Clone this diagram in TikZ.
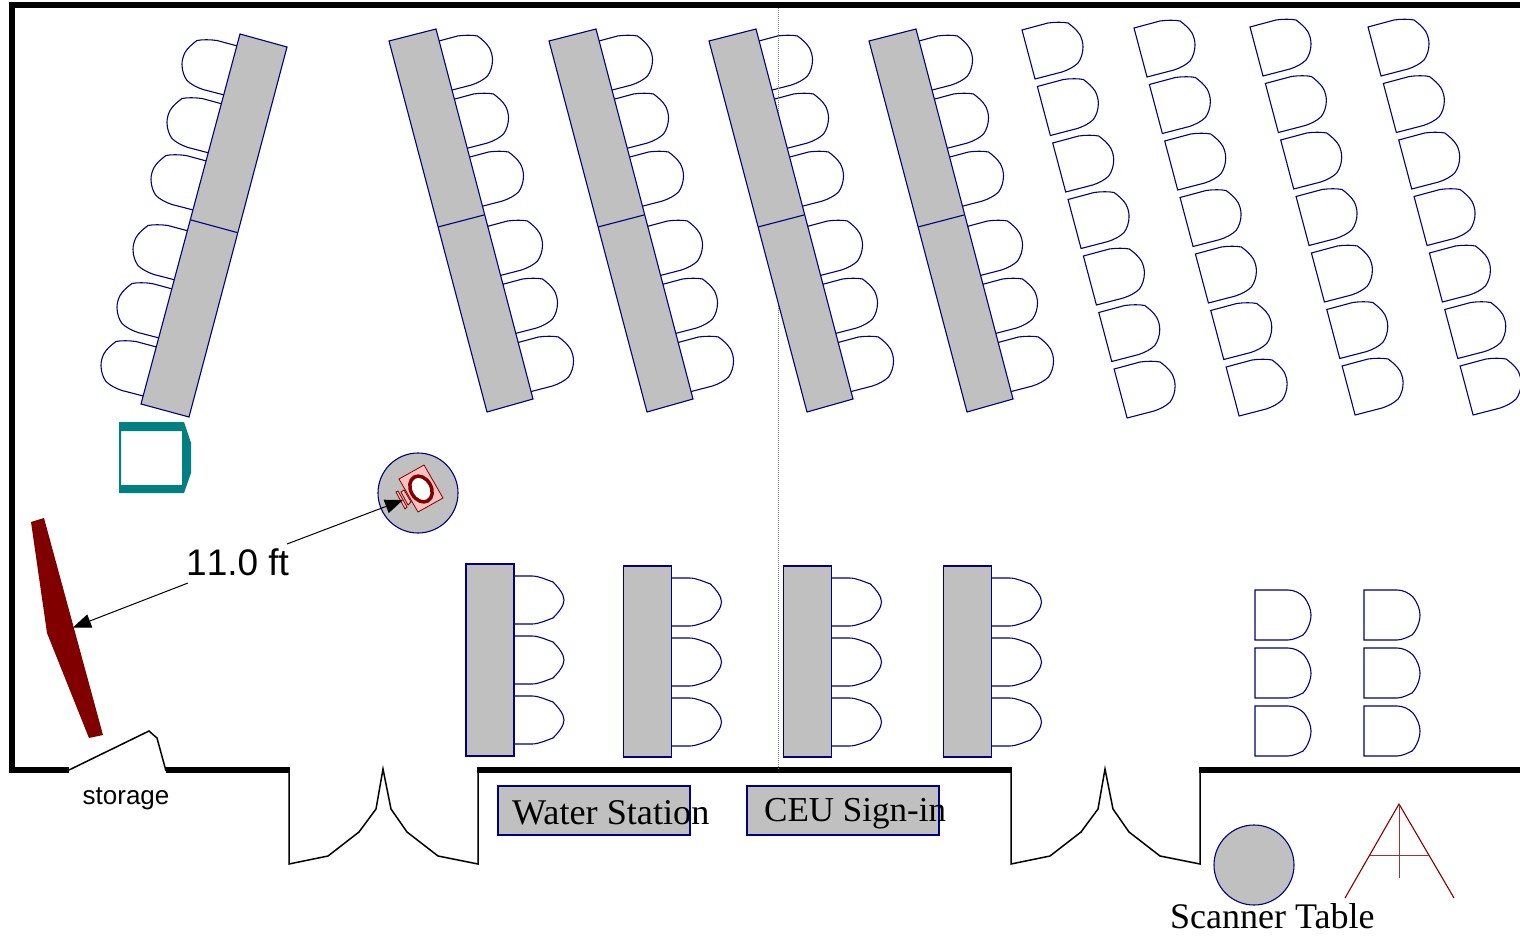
\documentclass[tikz,border=0pt]{standalone}
\usepackage{fontspec}
\setmainfont{Liberation Serif}
\newfontfamily\arialf[Kerning=Off]{Liberation Sans}
\usetikzlibrary{arrows.meta}
\definecolor{navyline}{HTML}{000080}
\definecolor{tablegray}{HTML}{C0C0C0}
\definecolor{maroonc}{HTML}{800000}
\definecolor{tealc}{HTML}{008080}
\definecolor{pinkc}{HTML}{FFC0C0}
\tikzset{
  x=1pt,y=-1pt,
  seat/.style={draw=navyline,line width=1.1pt,fill=white},
  tabletop/.style={draw=navyline,line width=1.1pt,fill=tablegray},
  wall/.style={draw=black,line width=6pt},
  thinwall/.style={draw=black,line width=1.5pt},
  dim/.style={draw=black,line width=1pt,-{Triangle[length=18pt,width=14pt]}},
  red line/.style={draw=maroonc,line width=1.1pt},
  serif label/.style={anchor=base west,inner sep=0pt},
  sans label/.style={anchor=base west,inner sep=0pt},
}
% outline shared by the slanted seats, one corner at the origin
\newcommand{\slantoutline}{(0,0) -- (26,-7) .. controls (33,-8) and (41,-8) .. (46,-7) .. controls (50,-4) and (55,0) .. (58,5) .. controls (60,9) and (61,13) .. (61,17) .. controls (61,23) and (59,29) .. (56,33) .. controls (52,37) and (46,40) .. (40,42) -- (13,49) -- cycle}
\newcommand{\seatR}[2]{\draw[seat,shift={(#1,#2)}] \slantoutline;}
\newcommand{\seatL}[2]{\draw[seat,shift={(#1,#2)},xscale=-1] \slantoutline;}
% seat beside a straight table
\newcommand{\seatB}[2]{\draw[seat,shift={(#1,#2)}] (0,-24) -- (18,-24) .. controls (25,-24) and (33,-20) .. (39,-18) .. controls (44,-13) and (50,-6) .. (50,0) .. controls (50,6) and (44,13) .. (39,18) .. controls (33,20) and (25,24) .. (18,24) -- (0,24);}
% upright free-standing seat
\newcommand{\seatD}[2]{\draw[seat,shift={(#1,#2)}] (0,0) -- (33,0) .. controls (39,0) and (45,3) .. (49,7) .. controls (53,12) and (56,19) .. (56,25) .. controls (56,31) and (53,40) .. (48,45) .. controls (44,47) and (38,50) .. (33,50) -- (0,50) -- cycle;}
\begin{document}
\begin{tikzpicture}
\useasboundingbox (0,0) rectangle (1520,936);
\fill[white] (0,0) rectangle (1520,936);

% free seats, top right
\foreach \cx/\cy in {1022/30,1134/28,1250/27,1368/27}
  \foreach \i in {0,...,6}
    \seatR{\cx+15.35*\i}{\cy+56.5*\i};

% seats at the slanted tables
\foreach \cx/\cy in {243/47.5,228/105.5,212/162.5,194/232.5,178/290.5,162/348.5}
  \seatL{\cx}{\cy};
\foreach \dx in {0,160,320,480}
  \foreach \cx/\cy in {431.5/43,447.5/101,462.5/159,481.5/228,496.5/286,512.5/344}
    \seatR{\cx+\dx}{\cy};

% seats at the straight tables
\foreach \cy in {600,660,720} \seatB{514}{\cy};
\foreach \tx in {671.5,831.5,991.5}
  \foreach \cy in {602,662,722} \seatB{\tx}{\cy};

% free seats, bottom right
\foreach \cx in {1255,1364}
  \foreach \cy in {590,648,706}
    \seatD{\cx}{\cy};

% walls
\draw[wall] (1520,5) -- (12,5) -- (12,770) -- (69,770);
\draw[wall] (166,770) -- (290,770);
\draw[wall] (477,770) -- (1012,770);
\draw[wall] (1199,770) -- (1520,770);
\draw[thinwall] (69,770) -- (149,731) -- (157,738) -- (166,771);
\foreach \dx in {0,722}
  \draw[thinwall] (289+\dx,769) -- (289+\dx,864) -- (328+\dx,856) -- (359+\dx,832) -- (376+\dx,809) -- (383+\dx,769) -- (391+\dx,809) -- (407+\dx,832) -- (438+\dx,856) -- (478+\dx,864) -- (478+\dx,769);

% divider line, under the tables
\draw[gray,line width=1pt,dash pattern=on 1pt off 1pt] (778.5,8) -- (778.5,769);

% slanted tables
\path[tabletop] (240,34) -- (287,47) -- (189,417) -- (141,404) -- cycle;
\draw[tabletop] (191,220) -- (237,232.5);
\foreach \dx in {0,160,320,480}{
  \path[tabletop] (389+\dx,41) -- (436+\dx,29) -- (533+\dx,399) -- (487+\dx,412) -- cycle;
  \draw[tabletop] (438+\dx,227) -- (484+\dx,215);
}

% straight tables
\path[tabletop] (466,564) rectangle (514,756);
\foreach \tx in {671.5,831.5,991.5}
  \path[tabletop] (\tx-48,566) rectangle (\tx,757);

% teal cabinet
\fill[tealc,even odd rule] (119,422) -- (184,422) -- (191,443) -- (191,473) -- (184,493) -- (119,493) -- cycle (121,431) rectangle (182,485);

% screen
\fill[maroonc] (31,522) -- (44,518) -- (103,735) -- (89,738) -- (47,633) -- cycle;

% round table and projector
\node[circle,draw=navyline,line width=1.1pt,fill=tablegray,minimum size=80pt,inner sep=0pt] (projtable) at (418,493) {};
\draw[red line,fill=pinkc,line width=.8pt] (399,479) -- (424,465) -- (443,498) -- (418,512) -- cycle;
\draw[red line,fill=pinkc,line width=.8pt] (401,492) -- (404,490) -- (411,502) -- (408,505) -- cycle;
\draw[red line,fill=pinkc,line width=.8pt] (396,492) -- (398,491) -- (407,507) -- (405,509) -- cycle;
\draw[maroonc,line width=3.5pt,fill=white,rotate around={-60:(421,489)}] (421,489) ellipse [x radius=13.7,y radius=10.2];

% distance labels
\node[sans label,font=\arialf\fontsize{37}{42}\selectfont] (dist) at (186,575) {11.0 ft};
\coordinate (screenpt) at (73,627.5);
\coordinate (lenspt) at (403,500);
\coordinate (s1) at (188,583);
\coordinate (s2) at (287,544);
\draw[dim] (s1) -- (screenpt);
\draw[dim] (s2) -- (lenspt);
\node[sans label,font=\arialf\fontsize{26}{30}\selectfont] (storage) at (82.5,804) {storage};

% boxes with labels
\path[tabletop] (498,786) rectangle (690,835);
\path[tabletop] (747,786) rectangle (939,835);
\node[serif label,font=\fontsize{36.2}{40}\selectfont] (water) at (512,824) {Water Station};
\node[serif label,font=\fontsize{35}{40}\selectfont] (ceu) at (764,821) {CEU Sign-in};

% scanner table
\node[circle,draw=navyline,line width=1.1pt,fill=tablegray,minimum size=80pt,inner sep=0pt] (scanner) at (1254,865) {};
\node[serif label,font=\fontsize{36}{40}\selectfont] (scanlabel) at (1170,928) {Scanner Table};

% easel
\draw[red line] (1345,898) -- (1399,804) -- (1454,898);
\draw[maroonc!80!white,line width=.9pt] (1370,855) -- (1429,855);
\draw[maroonc!80!white,line width=.9pt] (1399,804) -- (1399,878);
\end{tikzpicture}
\end{document}
